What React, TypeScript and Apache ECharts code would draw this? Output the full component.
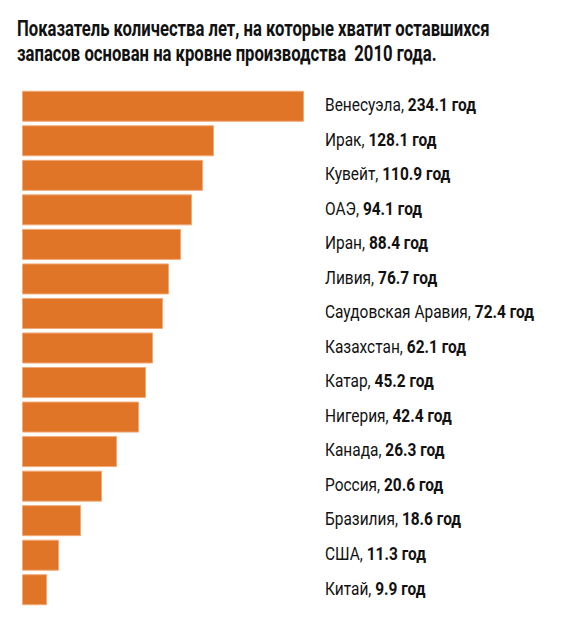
import React, { useEffect, useRef } from "react";
import * as echarts from "echarts";

const titleLines = [
  "Показатель количества лет, на которые хватит оставшихся",
  "запасов основан на кровне производства  2010 года.",
];
const countries = [
  "Венесуэла",
  "Ирак",
  "Кувейт",
  "ОАЭ",
  "Иран",
  "Ливия",
  "Саудовская Аравия",
  "Казахстан",
  "Катар",
  "Нигерия",
  "Канада",
  "Россия",
  "Бразилия",
  "США",
  "Китай",
];
const years = ["234.1", "128.1", "110.9", "94.1", "88.4", "76.7", "72.4", "62.1", "45.2", "42.4", "26.3", "20.6", "18.6", "11.3", "9.9"];
// bar lengths as drawn in the picture (schematic, relative units)
const barLengths = [282, 192, 181, 170, 159, 147, 141, 131, 124, 117, 95, 80, 59, 37, 25];

const TITLE_FONT = "bold 22px Roboto";
const TITLE_WIDTH = 473;
const LABEL_SIZE = 17.5;
const LABEL_REG = `normal ${LABEL_SIZE}px Roboto`;
const LABEL_BOLD = `bold ${LABEL_SIZE}px Roboto`;
const LABEL_WIDTH = 151;

function measure(text: string, font: string): number {
  const c = document.createElement("canvas");
  const ctx = c.getContext("2d")!;
  ctx.font = font;
  return ctx.measureText(text).width;
}

export default function App() {
  const ref = useRef<HTMLDivElement>(null);
  useEffect(() => {
    document.body.style.margin = "0";
    const chart = echarts.init(ref.current!, null, { renderer: "svg" });
    const tw = measure(titleLines[0], TITLE_FONT);
    const tsx = tw > 0 ? TITLE_WIDTH / tw : 0.76;
    const lw = measure(countries[0] + ", ", LABEL_REG) + measure(years[0] + " год", LABEL_BOLD);
    const lsx = lw > 0 ? LABEL_WIDTH / lw : 0.87;
    chart.setOption({
      animation: false,
      backgroundColor: "#ffffff",
      grid: { left: 22, top: 89, width: 300, height: 518, containLabel: false },
      xAxis: { type: "value", min: 0, max: 300, show: false },
      yAxis: {
        type: "category",
        inverse: true,
        data: countries,
        axisLine: { show: false },
        axisTick: { show: false },
        axisLabel: { show: false },
      },
      series: [
        {
          type: "bar",
          data: barLengths,
          barWidth: 31,
          itemStyle: { color: "#E07427", borderColor: "#F2A877", borderWidth: 1 },
        },
      ],
    });
    const labelX = (chart.convertToPixel({ gridIndex: 0 }, [300, 0]) as number[])[0] + 3;
    const labels = countries.map((c, i) => {
      const y = chart.convertToPixel({ yAxisIndex: 0 }, c) as number;
      return {
        type: "text",
        x: labelX,
        y: y - 1,
        scaleX: lsx,
        style: {
          text: `{n|${c}, }{b|${years[i]} год}`,
          verticalAlign: "middle",
          fill: "#111111",
          rich: {
            n: { fontFamily: "Roboto", fontSize: LABEL_SIZE, fill: "#111111", color: "#111111" },
            b: { fontFamily: "Roboto", fontSize: LABEL_SIZE, fontWeight: "bold", fill: "#111111", color: "#111111" },
          },
        },
      };
    });
    chart.setOption({
      graphic: [
        ...titleLines.map((t, i) => ({
          type: "text",
          x: 17,
          y: 29 + i * 25,
          scaleX: tsx,
          style: { text: t, font: TITLE_FONT, fill: "#111111", verticalAlign: "middle" },
        })),
        ...labels,
      ],
    });
    return () => chart.dispose();
  }, []);
  return <div ref={ref} style={{ width: 570, height: 644 }} />;
}
